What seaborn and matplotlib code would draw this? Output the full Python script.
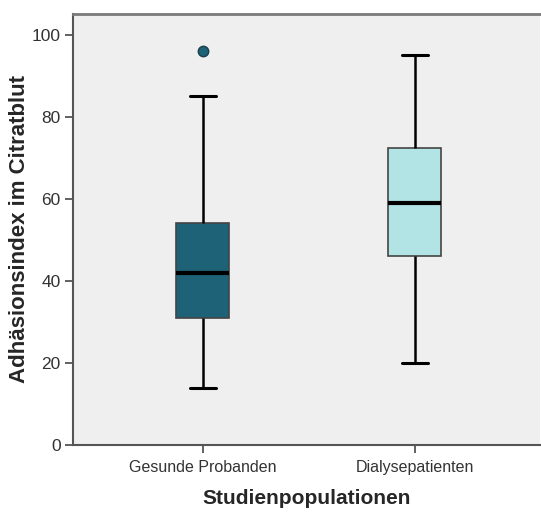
import matplotlib
matplotlib.use("Agg")
import matplotlib.pyplot as plt
import numpy as np
import pandas as pd
import seaborn as sns

groups = ['Gesunde Probanden', 'Dialysepatienten']
whisker_low = [14, 20]
q1 = [31, 46]
median = [42, 59]
q3 = [54, 72.5]
whisker_high = [85, 95]
outliers = [[96], []]
colors = ['#1e6277', '#b3e4e5']

# rebuild a 9-value sample per group that reproduces the read-off five number summary
rows = []
for i, g in enumerate(groups):
    vals = [whisker_low[i], q1[i], q1[i], median[i], median[i], q3[i], q3[i], whisker_high[i]]
    vals += outliers[i] if outliers[i] else [whisker_high[i]]
    for v in vals:
        rows.append({'Studienpopulationen': g, 'value': v})
df = pd.DataFrame(rows)

sns.set_style("white")
plt.rcParams['font.family'] = ['Liberation Sans', 'DejaVu Sans']

fig = plt.figure(figsize=(5.41, 5.12), dpi=100)
ax = fig.add_axes([0.135, 0.131, 0.863, 0.842])
ax.set_facecolor('#efefef')

sns.boxplot(data=df, x='Studienpopulationen', y='value', hue='Studienpopulationen',
            palette=colors, saturation=1, legend=False, width=0.25, whis=1.5, ax=ax,
            linewidth=1.5, linecolor='black', fliersize=7,
            boxprops={'edgecolor': '#444444', 'linewidth': 1.2},
            medianprops={'color': 'black', 'linewidth': 3},
            whiskerprops={'color': 'black', 'linewidth': 1.8},
            capprops={'color': 'black', 'linewidth': 2.2},
            flierprops={'marker': 'o', 'markerfacecolor': colors[0],
                        'markeredgecolor': '#1a3f4a', 'markersize': 7.5})

ax.set_xlim(-0.613, 1.59)
ax.set_ylim(0, 105.1)
ax.set_yticks([0, 20, 40, 60, 80, 100])

for s in ['left', 'bottom']:
    ax.spines[s].set_color('#555555')
    ax.spines[s].set_linewidth(1.5)
ax.spines['top'].set_color('#7a7a7a')
ax.spines['top'].set_linewidth(2)
ax.spines['right'].set_visible(False)

ax.tick_params(axis='both', direction='out', length=6, width=1.3, color='#555555',
               labelcolor='#333333', left=True, bottom=True)
ax.tick_params(axis='x', labelsize=11.5, pad=5)
ax.tick_params(axis='y', labelsize=12.5, pad=3)

ax.set_xlabel('Studienpopulationen', fontsize=15, fontweight='bold')
ax.set_ylabel('Adhäsionsindex im Citratblut', fontsize=16, fontweight='bold')
ax.yaxis.set_label_coords(-0.092, 0.5)
ax.xaxis.set_label_coords(0.5, -0.102)

fig.savefig('out.png', dpi=100, facecolor='white')
